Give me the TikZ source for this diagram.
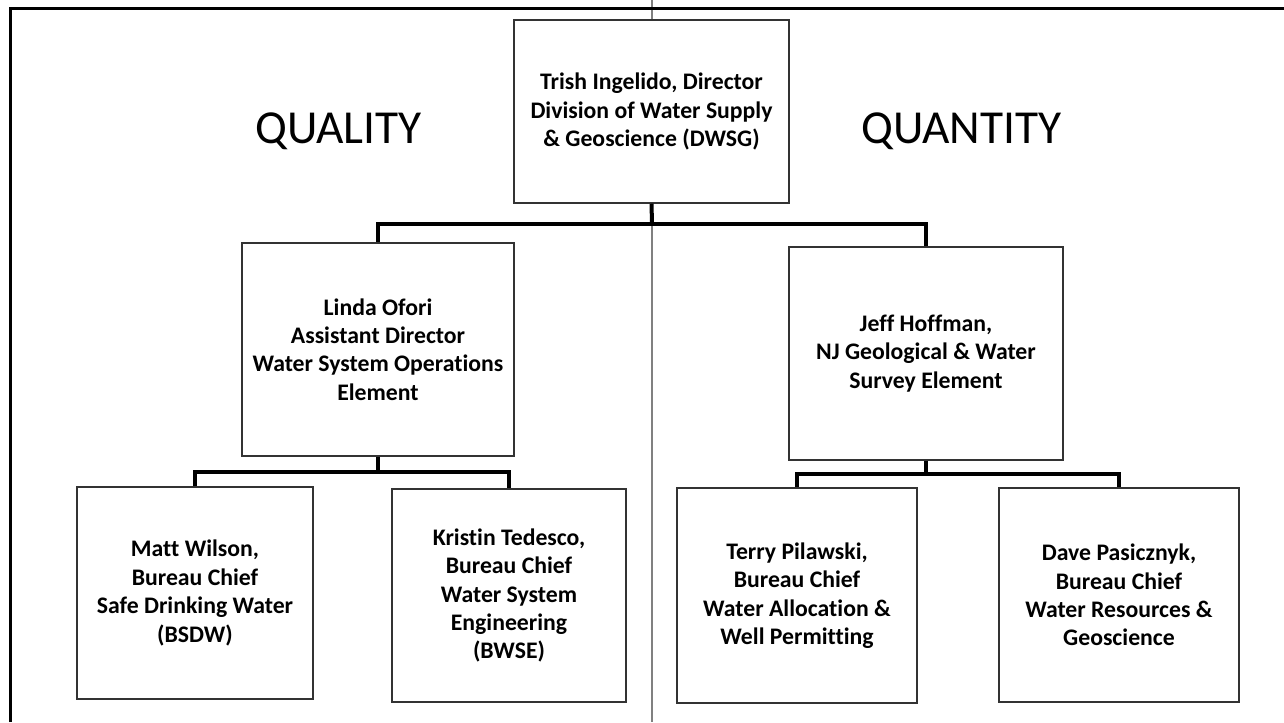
\documentclass[tikz,border=0pt]{standalone}
\usepackage{fontspec}
\setmainfont{Carlito}[Ligatures=NoCommon]
\usetikzlibrary{positioning}
\usepackage{xcolor}
\definecolor{ChartBlack}{HTML}{000000}
\definecolor{ChartEdge}{HTML}{333333}
\definecolor{ChartDivider}{HTML}{808080}

\begin{document}
\begin{tikzpicture}[x=0.75pt, y=-0.75pt,
            box/.style={rectangle, draw=ChartEdge, line width=1.1pt, fill=white, align=center, inner sep=0pt, font=\bfseries\fontsize{17.8}{21.3}\selectfont},
            conn/.style={ChartBlack, line width=3pt},
            side/.style={anchor=base west, inner sep=0pt, font=\fontsize{35.5}{40}\selectfont}
        ]
            \useasboundingbox (0,0) rectangle (1284,722);

            % Frame and divider
            \draw[ChartDivider, line width=0.9pt] (652,0) -- (652,722);
            \draw[ChartBlack, line width=2.25pt] (10.5,722) -- (10.5,8.7) -- (1284,8.7);

            % Side titles
            \node[side] (quality) at (255,143) {QUALITY};
            \node[side] (quantity) at (861,143) {QUANTITY};

            % Boxes
            \node[box, minimum width=206.25pt, minimum height=137.25pt] (dir) at (651.5,111.5) {Trish Ingelido, Director\\Division of Water Supply\\\& Geoscience (DWSG)};
            \node[box, minimum width=204pt, minimum height=159.75pt] (linda) at (378,349.5) {Linda Ofori\\Assistant Director\\Water System Operations\\Element};
            \node[box, minimum width=205.5pt, minimum height=159.75pt] (jeff) at (926,353.5) {Jeff Hoffman,\\NJ Geological \& Water\\Survey Element};
            \node[box, minimum width=177pt, minimum height=159pt] (matt) at (195,593) {Matt Wilson,\\Bureau Chief\\Safe Drinking Water\\(BSDW)};
            \node[box, minimum width=175.5pt, minimum height=159.75pt] (kristin) at (509,595.5) {Kristin Tedesco,\\Bureau Chief\\Water System\\Engineering\\(BWSE)};
            \node[box, minimum width=180pt, minimum height=161.25pt] (terry) at (797,595.5) {Terry Pilawski,\\Bureau Chief\\Water Allocation \&\\Well Permitting};
            \node[box, minimum width=180pt, minimum height=160.5pt] (dave) at (1119,595) {Dave Pasicznyk,\\Bureau Chief\\Water Resources \&\\Geoscience};

            % Connectors
            \coordinate (topbus) at (652,223.5);
            \coordinate (leftbus) at (378,472);
            \coordinate (rightbus) at (926,474);
            \draw[conn] (dir.south) -- (topbus);
            \draw[conn] (topbus) -| (linda.north);
            \draw[conn] (topbus) -| (jeff.north);
            \draw[conn] (linda.south) -- (leftbus);
            \draw[conn] (leftbus) -| (matt.north);
            \draw[conn] (leftbus) -| (kristin.north);
            \draw[conn] (jeff.south) -- (rightbus);
            \draw[conn] (rightbus) -| (terry.north);
            \draw[conn] (rightbus) -| (dave.north);
        \end{tikzpicture}
\end{document}
